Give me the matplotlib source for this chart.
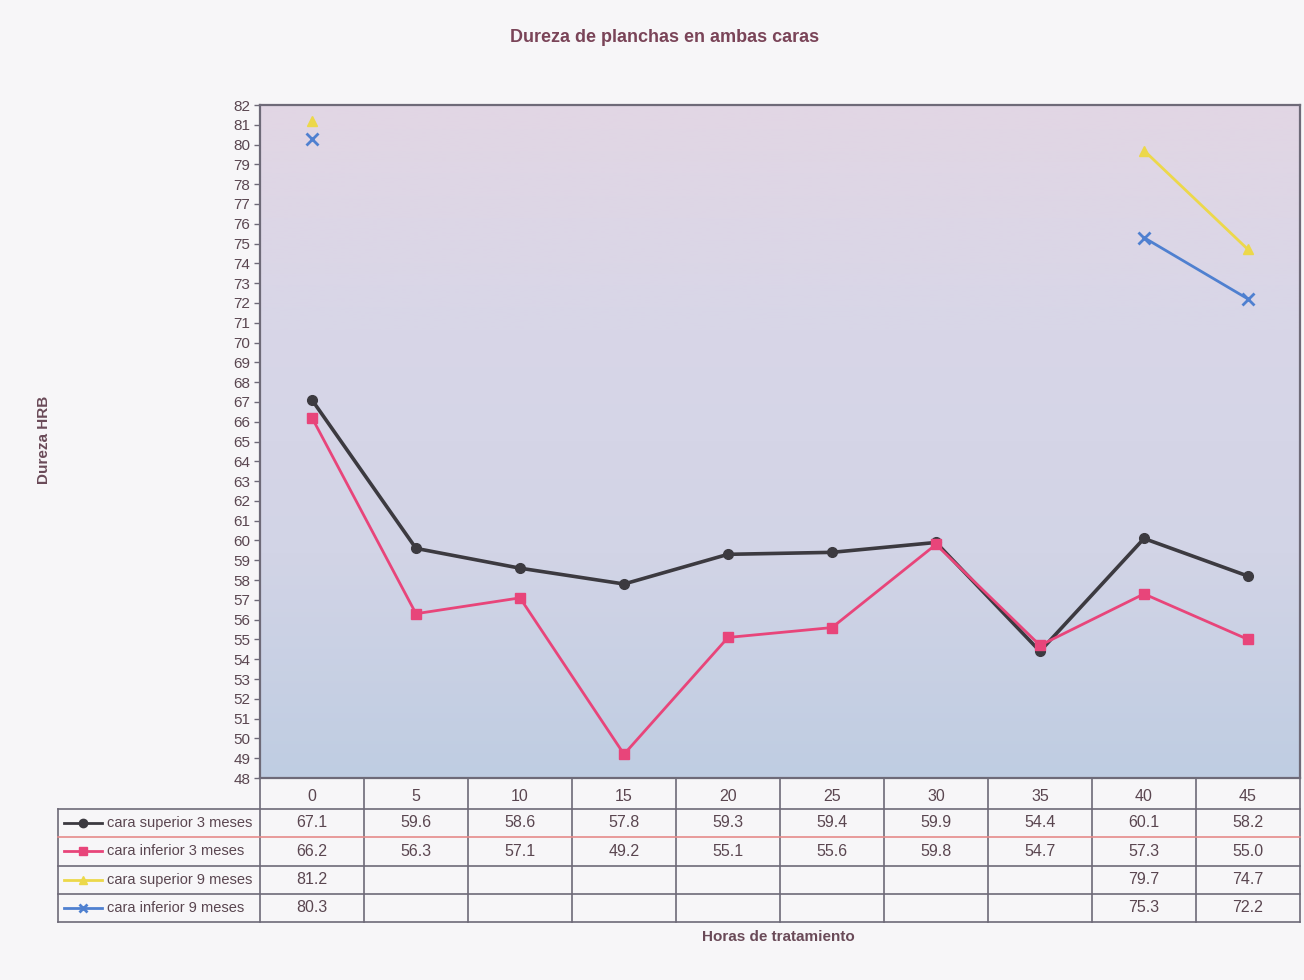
import numpy as np
import matplotlib
matplotlib.use("Agg")
import matplotlib.pyplot as plt
from matplotlib.colors import LinearSegmentedColormap

# Data
horas = ["0", "5", "10", "15", "20", "25", "30", "35", "40", "45"]
sup_3m = [67.1, 59.6, 58.6, 57.8, 59.3, 59.4, 59.9, 54.4, 60.1, 58.2]
inf_3m = [66.2, 56.3, 57.1, 49.2, 55.1, 55.6, 59.8, 54.7, 57.3, 55.0]
sup_9m = [81.2, None, None, None, None, None, None, None, 79.7, 74.7]
inf_9m = [80.3, None, None, None, None, None, None, None, 75.3, 72.2]
series_names = ["cara superior 3 meses", "cara inferior 3 meses",
                "cara superior 9 meses", "cara inferior 9 meses"]

series = [sup_3m, inf_3m, sup_9m, inf_9m]
colors = ["#3c3a40", "#e8457a", "#ecd84a", "#4f80d0"]
markers = ["o", "s", "^", "x"]
lws = [2.6, 2.0, 2.0, 2.0]
msz = [7, 7, 7, 8]

text_col = "#5a4650"
grid_col = "#6e6a78"

plt.rcParams["font.family"] = ["Liberation Sans", "DejaVu Sans"]

W, H = 1304, 980
fig = plt.figure(figsize=(W / 100, H / 100), dpi=100)
fig.patch.set_facecolor("#f7f6f8")

def box(x0, y0, x1, y1):
    return [x0 / W, 1 - y1 / H, (x1 - x0) / W, (y1 - y0) / H]

ax = fig.add_axes(box(260, 105, 1300, 778))
n = len(horas)
xs = np.arange(n)
ax.set_xlim(-0.5, n - 0.5)
ax.set_ylim(48, 82)

# Plot area background: lavender at the top fading to blue-grey at the bottom
cmap = LinearSegmentedColormap.from_list(
    "bg", ["#e2d6e4", "#d8d6e8", "#d2d4e6", "#bfcde2"])
grad = np.linspace(0, 1, 256).reshape(-1, 1)
ax.imshow(grad, cmap=cmap, aspect="auto", extent=(-0.5, n - 0.5, 48, 82),
          origin="upper", zorder=0, vmin=0, vmax=1)

for vals, c, m, lw, ms in zip(series, colors, markers, lws, msz):
    y = np.array([np.nan if v is None else v for v in vals], dtype=float)
    ax.plot(xs, y, color=c, lw=lw, marker=m, ms=ms, mew=2 if m == "x" else 1,
            mec=c, mfc=c, zorder=3)

ax.set_yticks(np.arange(48, 83, 1))
ax.set_yticklabels([str(v) for v in range(48, 83)], fontsize=11, color=text_col)
ax.tick_params(axis="y", length=4, width=1, color=grid_col, pad=3)
ax.set_xticks([])
for s in ax.spines.values():
    s.set_color(grid_col)
    s.set_linewidth(1.6)

# Data table below the plot
tab = fig.add_axes(box(58, 778, 1300, 922))
lx = -0.5 - 202 / 104
tab.set_xlim(lx, n - 0.5)
tab.set_ylim(5, 0)
tab.axis("off")
row_h = [0, 1.06, 2.06, 3.04, 4.02, 5]
for i in range(n + 1):
    tab.plot([i - 0.5, i - 0.5], [0, 5], color=grid_col, lw=1.2, clip_on=False)
tab.plot([lx, lx], [row_h[1], 5], color=grid_col, lw=1.2, clip_on=False)
for k in range(1, 6):
    c = "#e58a8a" if k == 2 else grid_col
    tab.plot([lx, n - 0.5], [row_h[k], row_h[k]], color=c, lw=1.2, clip_on=False)

for i, h in enumerate(horas):
    tab.text(i, (row_h[0] + row_h[1]) / 2 + 0.1, h, ha="center", va="center",
             fontsize=11.5, color=text_col)

for r, (vals, name, c, m) in enumerate(zip(series, series_names, colors, markers)):
    yc = (row_h[r + 1] + row_h[r + 2]) / 2
    tab.plot([lx + 0.06, lx + 0.42], [yc, yc], color=c, lw=2, clip_on=False)
    tab.plot([lx + 0.24], [yc], color=c, marker=m, ms=6, mew=2 if m == "x" else 1,
             clip_on=False)
    tab.text(lx + 0.47, yc, name, ha="left", va="center", fontsize=10.5,
             color=text_col)
    for i, v in enumerate(vals):
        if v is not None:
            tab.text(i, yc, f"{v:.1f}", ha="center", va="center", fontsize=11.5,
                     color=text_col)

fig.text(665 / W, 1 - 37 / H, "Dureza de planchas en ambas caras",
         ha="center", va="center", fontsize=13, fontweight="bold", color="#7a4458")
fig.text(44 / W, 1 - 440 / H, "Dureza HRB", rotation=90, ha="center",
         va="center", fontsize=11, fontweight="bold", color="#6a4a58")
fig.text(778 / W, 1 - 937 / H, "Horas de tratamiento", ha="center",
         va="center", fontsize=11, fontweight="bold", color="#6a4a58")

fig.savefig("out.png", dpi=100, facecolor=fig.get_facecolor())
